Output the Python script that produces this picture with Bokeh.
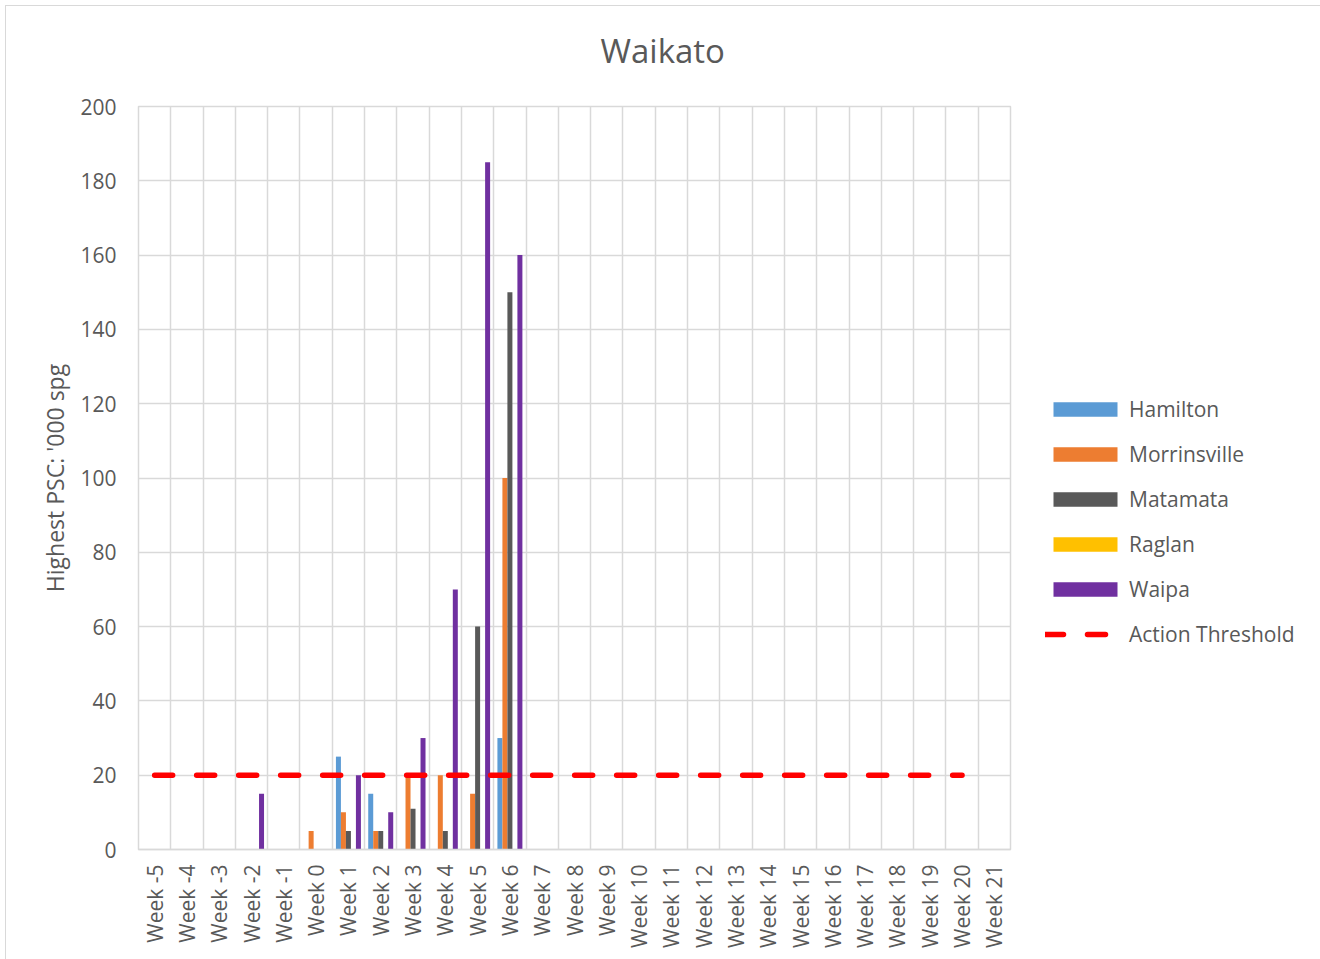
import numpy as np
from bokeh.plotting import figure
from bokeh.models import (Range1d, FixedTicker, Grid, Legend, LegendItem,
                          ColumnDataSource, Title)
from bokeh.transform import dodge
from bokeh.embed import file_html
from bokeh.resources import INLINE

weeks = ["Week -5", "Week -4", "Week -3", "Week -2", "Week -1", "Week 0",
         "Week 1", "Week 2", "Week 3", "Week 4", "Week 5", "Week 6", "Week 7",
         "Week 8", "Week 9", "Week 10", "Week 11", "Week 12", "Week 13",
         "Week 14", "Week 15", "Week 16", "Week 17", "Week 18", "Week 19",
         "Week 20", "Week 21"]

hamilton     = [0, 0, 0, 0, 0, 0, 25, 15, 0, 0, 0, 30, 0, 0, 0, 0, 0, 0, 0, 0, 0, 0, 0, 0, 0, 0, 0]
morrinsville = [0, 0, 0, 0, 0, 5, 10, 5, 20, 20, 15, 100, 0, 0, 0, 0, 0, 0, 0, 0, 0, 0, 0, 0, 0, 0, 0]
matamata     = [0, 0, 0, 0, 0, 0, 5, 5, 11, 5, 60, 150, 0, 0, 0, 0, 0, 0, 0, 0, 0, 0, 0, 0, 0, 0, 0]
raglan       = [0, 0, 0, 0, 0, 0, 0, 0, 0, 0, 0, 0, 0, 0, 0, 0, 0, 0, 0, 0, 0, 0, 0, 0, 0, 0, 0]
waipa        = [0, 0, 0, 15, 0, 0, 20, 10, 30, 70, 185, 160, 0, 0, 0, 0, 0, 0, 0, 0, 0, 0, 0, 0, 0, 0, 0]
threshold    = [20, 20, 20, 20, 20, 20, 20, 20, 20, 20, 20, 20, 20, 20, 20, 20, 20,
                20, 20, 20, 20, 20, 20, 20, 20, 20, None]

series_names = ["Hamilton", "Morrinsville", "Matamata", "Raglan", "Waipa"]
series_values = [hamilton, morrinsville, matamata, raglan, waipa]
series_colors = ["#5B9BD5", "#ED7D31", "#595959", "#FFC000", "#7030A0"]
y_ticks = [0, 20, 40, 60, 80, 100, 120, 140, 160, 180, 200]

TEXT = "#595959"
GRID = "#d9d9d9"
FONT = "Open Sans"

idx = list(range(len(weeks)))
data = {"x": idx}
for n, v in zip(series_names, series_values):
    data[n] = v
data["threshold"] = [np.nan if t is None else t for t in threshold]
src = ColumnDataSource(data)

p = figure(frame_width=872, frame_height=743, output_backend="svg",
           toolbar_location=None, title=None,
           x_range=Range1d(-0.5, len(weeks) - 0.5), y_range=Range1d(0, 200),
           min_border_left=132, min_border_right=310,
           min_border_top=100, min_border_bottom=110)
p.styles = {"margin-left": "5px", "margin-top": "5px",
            "border-left": "1px solid #d9d9d9", "border-top": "1px solid #d9d9d9"}
p.background_fill_color = "white"
p.border_fill_color = "white"
p.outline_line_color = GRID
p.outline_line_width = 1.5

# title (a thin spacer title keeps the main title higher above the frame)
spacer = Title(text=" ", text_font_size="1px", standoff=26)
main_title = Title(text="Waikato", text_font=FONT, text_font_size="33px",
                   text_font_style="normal", text_color=TEXT,
                   align="left", offset=462, standoff=10)
p.add_layout(spacer, "above")
p.add_layout(main_title, "above")

# grids
p.xgrid.visible = False
p.ygrid.ticker = FixedTicker(ticks=y_ticks)
p.ygrid.grid_line_color = GRID
p.ygrid.grid_line_width = 1.5
p.add_layout(Grid(dimension=0, ticker=FixedTicker(ticks=[i - 0.5 for i in range(len(weeks) + 1)]),
                  grid_line_color=GRID, grid_line_width=1.5))

# bars
bw = 5 / 32.3
renderers = {}
for k, (n, c) in enumerate(zip(series_names, series_colors)):
    off = (k - 2) * bw
    r = p.vbar(x=dodge("x", off), top=n, width=bw, bottom=0, source=src,
               fill_color=c, line_color=None)
    renderers[n] = r

thr = p.line(x="x", y="threshold", source=src, line_color="#FF0000",
             line_width=5.5, line_dash="18 24", line_cap="round")

# axes
p.xaxis.ticker = FixedTicker(ticks=idx)
p.xaxis.major_label_overrides = {i: w for i, w in zip(idx, weeks)}
p.xaxis.major_label_orientation = np.pi / 2
p.xaxis.major_label_text_font = FONT
p.xaxis.major_label_text_font_size = "21px"
p.xaxis.major_label_text_color = TEXT
p.xaxis.major_label_standoff = 9
p.xaxis.major_tick_line_color = None
p.xaxis.minor_tick_line_color = None
p.xaxis.axis_line_color = GRID
p.xaxis.axis_line_width = 1.5

p.yaxis.ticker = FixedTicker(ticks=y_ticks)
p.yaxis.major_label_text_font = FONT
p.yaxis.major_label_text_font_size = "21px"
p.yaxis.major_label_text_color = TEXT
p.yaxis.major_label_standoff = 16
p.yaxis.major_tick_line_color = None
p.yaxis.minor_tick_line_color = None
p.yaxis.axis_line_color = None
p.yaxis.axis_label = "Highest PSC: '000 spg"
p.yaxis.axis_label_text_font = FONT
p.yaxis.axis_label_text_font_size = "23px"
p.yaxis.axis_label_text_font_style = "normal"
p.yaxis.axis_label_text_color = TEXT
p.yaxis.axis_label_standoff = 6

items = [LegendItem(label=n, renderers=[renderers[n]]) for n in series_names]
items.append(LegendItem(label="Action Threshold", renderers=[thr]))
legend = Legend(items=items, location=(35, 201), orientation="vertical",
                glyph_width=80, glyph_height=18, label_height=18,
                label_standoff=4, spacing=17, padding=0, margin=30,
                border_line_color=None, background_fill_alpha=0,
                label_text_font=FONT, label_text_font_size="21px",
                label_text_color=TEXT)
p.add_layout(legend, "right")

open("out.html", "w").write(file_html(p, INLINE))
